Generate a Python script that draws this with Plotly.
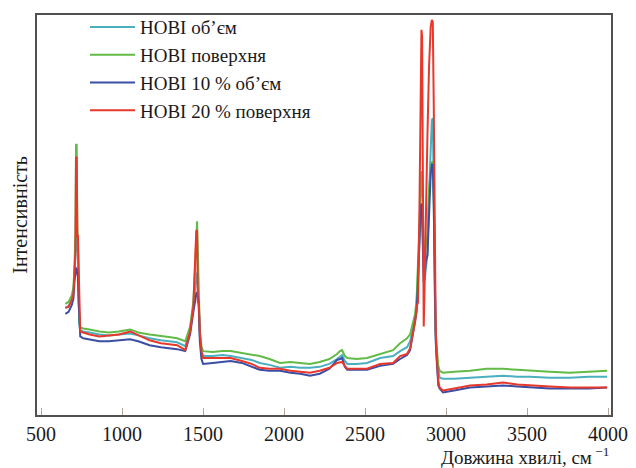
import plotly.graph_objects as go

wavenumber = [650, 670, 690, 700, 706, 712, 716, 720, 724, 728, 732, 736, 742, 760, 800, 860, 920, 980,
              1050, 1100, 1170, 1240, 1300, 1340, 1390, 1420, 1440, 1452, 1458, 1463, 1468, 1474, 1480,
              1490, 1500, 1560, 1620, 1670, 1740, 1800, 1850, 1910, 1975, 2040, 2100, 2160, 2220, 2280,
              2327, 2345, 2358, 2375, 2390, 2450, 2512, 2593, 2673, 2716, 2759, 2778, 2796, 2809, 2818,
              2827, 2836, 2842, 2848, 2852, 2856, 2862, 2868, 2876, 2885, 2895, 2905, 2912, 2918, 2924,
              2930, 2936, 2944, 2952, 2960, 2981, 3050, 3148, 3250, 3352, 3440, 3519, 3640, 3765, 3880, 3994]

hobi_volume = [109, 111, 117, 125, 143, 165, 179, 182, 175, 165, 120, 93, 86, 85, 84, 82, 81, 82,
               83, 81, 78, 76, 75, 74, 70, 87, 110, 130, 143, 145, 135, 115, 80,
               65, 60, 60, 61, 60, 58, 56, 53, 51, 48, 49, 48, 48, 49, 52,
               57, 59, 61, 55, 52, 52, 53, 58, 60, 65, 69, 75, 87, 97, 115,
               145, 185, 210, 215, 210, 180, 145, 137, 150, 165, 225, 285, 300, 302, 235,
               135, 80, 55, 43, 38, 37, 37, 38, 39, 40, 39, 39, 38, 38, 39, 39]

hobi_surface = [113, 115, 122, 130, 150, 185, 275, 275, 190, 175, 125, 97, 89, 88, 87, 85, 84, 85,
                87, 84, 82, 80, 79, 78, 75, 90, 115, 155, 190, 197, 165, 115, 85,
                70, 65, 64, 65, 65, 63, 61, 60, 57, 53, 54, 53, 52, 54, 57,
                62, 65, 66, 60, 58, 57, 58, 62, 66, 73, 78, 82, 93, 103, 117,
                155, 200, 235, 248, 245, 215, 170, 165, 175, 182, 230, 250, 257, 258, 215,
                125, 85, 65, 50, 45, 43, 44, 45, 47, 47, 46, 45, 44, 43, 44, 45]

hobi10_volume = [103, 105, 112, 119, 135, 145, 150, 148, 145, 140, 115, 90, 80, 78, 77, 75, 75, 76,
                 77, 75, 71, 69, 68, 67, 65, 82, 105, 120, 123, 125, 122, 110, 75,
                 57, 52, 53, 54, 55, 53, 49, 46, 45, 45, 43, 42, 40, 42, 47,
                 56, 57, 58, 49, 46, 46, 46, 50, 52, 57, 61, 66, 83, 93, 105,
                 135, 185, 210, 215, 210, 175, 135, 145, 157, 162, 215, 245, 255, 255, 215,
                 125, 75, 50, 30, 27, 23, 25, 28, 29, 30, 29, 28, 27, 27, 27, 28]

hobi20_surface = [109, 110, 117, 123, 145, 165, 262, 262, 182, 182, 150, 105, 85, 84, 82, 80, 81, 82,
                  85, 81, 76, 73, 72, 71, 66, 85, 110, 155, 187, 188, 115, 115, 85,
                  65, 58, 58, 58, 58, 55, 52, 48, 47, 47, 45, 44, 43, 45, 48,
                  53, 54, 54, 50, 47, 47, 47, 52, 53, 60, 62, 68, 85, 95, 110,
                  115, 215, 355, 392, 385, 215, 90, 135, 215, 285, 355, 395, 402, 400, 315,
                  165, 85, 55, 35, 28, 25, 27, 30, 31, 33, 31, 30, 29, 28, 28, 28]

series_names = ["НОВІ об’єм", "НОВІ поверхня", "НОВІ 10 % об’єм", "НОВІ 20 % поверхня"]
series_values = [hobi_volume, hobi_surface, hobi10_volume, hobi20_surface]
series_colors = ["#4ab0bf", "#62bb47", "#3a4ea3", "#e8382c"]

x_ticks = [500, 1000, 1500, 2000, 2500, 3000, 3500, 4000]

FONT = "Liberation Serif"

fig = go.Figure()
for name, vals, col in zip(series_names, series_values, series_colors):
    fig.add_trace(go.Scatter(x=wavenumber, y=vals, mode="lines", name=name,
                             line=dict(color=col, width=2)))

fig.update_layout(
    width=636, height=468,
    margin=dict(l=37, r=25, t=8, b=53),
    paper_bgcolor="white", plot_bgcolor="white",
    font=dict(family=FONT, size=20, color="#1a1a1a"),
    showlegend=True,
    legend=dict(x=0.0836, y=1.017, xanchor="left", yanchor="top",
                bgcolor="rgba(0,0,0,0)", font=dict(family=FONT, size=19, color="#1a1a1a"),
                itemwidth=45),
    xaxis=dict(range=[475, 4018], tickvals=x_ticks, ticktext=[str(t) for t in x_ticks],
               ticks="inside", ticklen=7, tickcolor="#b0a8a0", tickwidth=1,
               showgrid=False, zeroline=False, showline=True, mirror=True,
               linecolor="#505050", linewidth=2,
               tickfont=dict(family=FONT, size=20, color="#1a1a1a")),
    yaxis=dict(range=[0, 407], showticklabels=False, ticks="", showgrid=False, zeroline=False,
               showline=True, mirror=True, linecolor="#505050", linewidth=2),
    annotations=[
        dict(text="Довжина хвилі, см<sup> −1</sup>", xref="paper", yref="paper",
             x=1.0, y=-0.103, xanchor="right", yanchor="middle", showarrow=False,
             font=dict(family=FONT, size=19, color="#1a1a1a")),
        dict(text="Інтенсивність", xref="paper", yref="paper", x=-0.03, y=0.5,
             xanchor="center", yanchor="middle", textangle=-90, showarrow=False,
             font=dict(family=FONT, size=20, color="#1a1a1a")),
    ],
)

fig.write_html("out.html")
